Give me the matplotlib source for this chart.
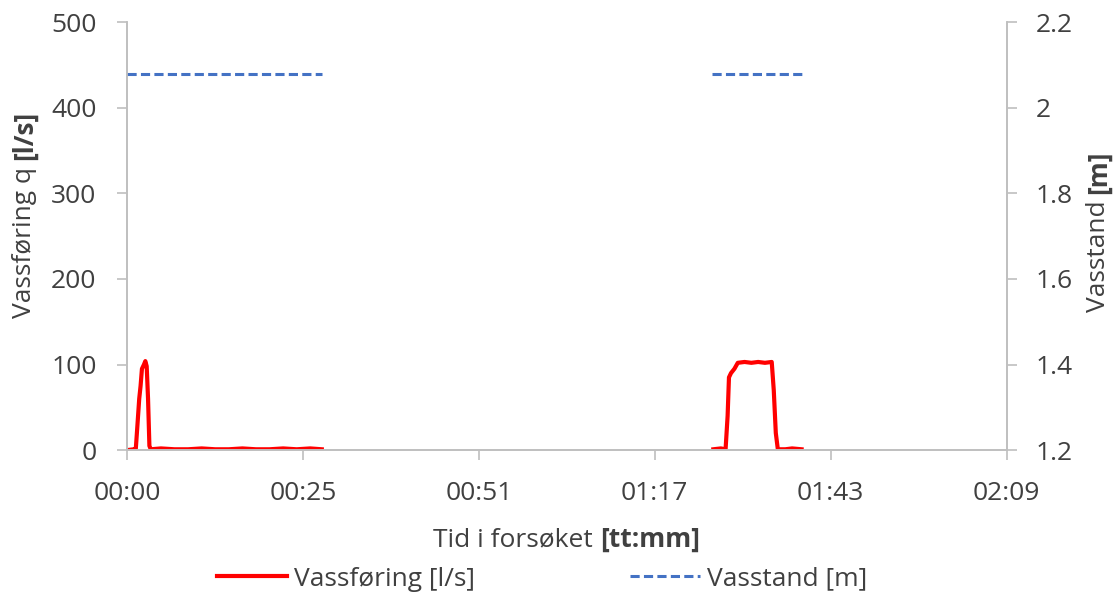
import numpy as np
import matplotlib
matplotlib.use("Agg")
import matplotlib.pyplot as plt
from matplotlib.lines import Line2D

# time in minutes since start of test
t_q1 = [0, 1.0, 1.3, 1.5, 1.8, 2.0, 2.2, 2.5, 2.7, 2.9, 3.1, 3.3, 3.5, 5, 7, 9,
        11, 13, 15, 17, 19, 21, 23, 25, 27, 28.7]
q1 = [0, 1, 2, 25, 60, 75, 95, 100, 104, 98, 60, 5, 1, 2, 1, 1,
      2, 1, 1, 2, 1, 1, 2, 1, 2, 1]
t_q2 = [86.4, 87.5, 88.2, 88.5, 88.7, 89.0, 89.5, 90.0, 91, 92, 93, 94, 95.0,
        95.3, 95.6, 95.9, 97, 98, 99.4]
q2 = [1, 2, 1, 40, 85, 90, 95, 102, 103, 102, 103, 102, 103,
      70, 20, 1, 1, 2, 1]

t_h = [0, 28.7, np.nan, 86.2, 99.4]
h = [2.078, 2.078, np.nan, 2.078, 2.078]

x_ticks = [0, 25.92, 51.84, 77.76, 103.68, 129.6]
x_labels = ["00:00", "00:25", "00:51", "01:17", "01:43", "02:09"]

TXT = "#404040"
GRID = "#bfbfbf"
RED = "#ff0000"
BLUE = "#4472c4"


def main():
    plt.rcParams["font.family"] = ["Open Sans", "DejaVu Sans"]
    plt.rcParams["font.size"] = 19

    fig = plt.figure(figsize=(11.19, 5.97), dpi=100)
    ax = fig.add_axes([0.1135, 0.246, 0.786, 0.717])
    ax2 = ax.twinx()

    t_q = t_q1 + [np.nan] + t_q2
    q = q1 + [np.nan] + q2
    ax.plot(t_q, q, color=RED, lw=3.0, solid_joinstyle="round")
    ln2, = ax2.plot(t_h, h, color=BLUE, lw=2.2)
    ln2.set_dashes((3, 1.4))

    ax.set_xlim(0, 129.6)
    ax.set_ylim(0, 500)
    ax2.set_ylim(1.2, 2.2)
    ax.set_xticks(x_ticks)
    ax.set_xticklabels(x_labels)
    ax.set_yticks(range(0, 501, 100))
    ax2.set_yticks([1.2, 1.4, 1.6, 1.8, 2.0, 2.2])
    ax2.set_yticklabels(["1.2", "1.4", "1.6", "1.8", "2", "2.2"])

    for a in (ax, ax2):
        a.spines["top"].set_visible(False)
        for s in ("left", "right", "bottom"):
            a.spines[s].set_color(GRID)
            a.spines[s].set_linewidth(1.2)
        a.tick_params(colors=GRID, labelcolor=TXT, length=7, width=1.2)
    ax.tick_params(axis="y", pad=15)
    ax.tick_params(axis="x", pad=15)
    ax2.tick_params(axis="y", pad=14)

    # axis labels with bold unit part
    t = fig.text(0.5, 0.095, "Tid i forsøket ", color=TXT, ha="right",
                 va="center")
    fig.canvas.draw()
    xb = ax.annotate("[tt:mm]", xy=(1, 0), xycoords=t, ha="left",
                     va="bottom", color=TXT, weight="bold")
    # shift to centre the pair under the plot
    r = fig.canvas.get_renderer()
    w1 = t.get_window_extent(r).width
    w2 = xb.get_window_extent(r).width
    cx = (0.1135 + 0.786 / 2) * fig.bbox.width
    t.set_x((cx - (w1 + w2) / 2 + w1) / fig.bbox.width)

    t = fig.text(0.022, 0.467, "Vassføring q ", color=TXT, rotation=90,
                 ha="center", va="bottom")
    ax.annotate("[l/s]", xy=(0.5, 1), xycoords=t, ha="center", va="bottom",
                rotation=90, color=TXT, weight="bold")

    t = fig.text(0.982, 0.477, "Vasstand ", color=TXT, rotation=90,
                 ha="center", va="bottom")
    ax.annotate("[m]", xy=(0.5, 1), xycoords=t, ha="center", va="bottom",
                rotation=90, color=TXT, weight="bold")

    handles = [Line2D([], [], color=RED, lw=3.0),
               Line2D([], [], color=BLUE, lw=2.2, dashes=(3, 1.4))]
    fig.legend(handles, ["Vassføring [l/s]", "Vasstand [m]"], ncol=2,
               loc="center", bbox_to_anchor=(0.4845, 0.03), frameon=False,
               handlelength=2.65, handletextpad=0.25, columnspacing=5.9,
               labelcolor=TXT)

    fig.savefig("out.png", dpi=100)


if __name__ == "__main__":
    main()
